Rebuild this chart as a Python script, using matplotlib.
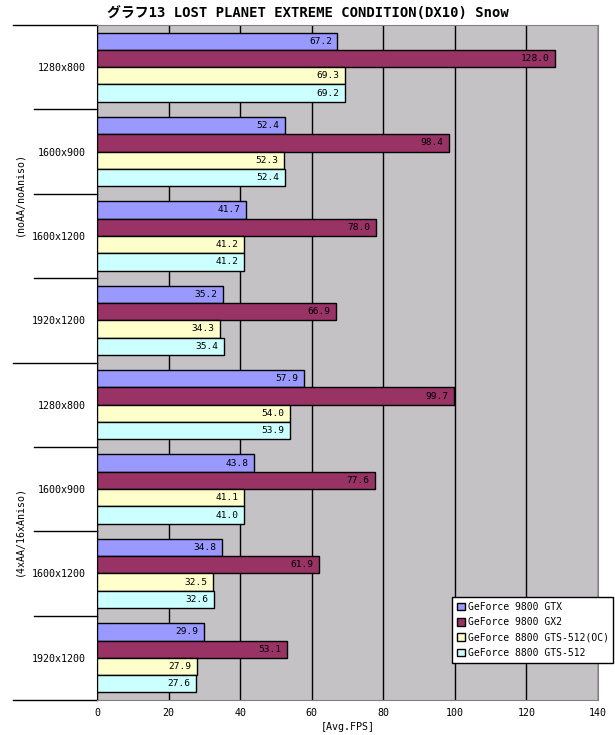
import numpy as np
import matplotlib.pyplot as plt
from matplotlib import transforms

# data, top to bottom
resolutions = ['1280x800', '1600x900', '1600x1200', '1920x1200'] * 2
settings = ['(noAA/noAniso)', '(4xAA/16xAniso)']
series = ['GeForce 9800 GTX', 'GeForce 9800 GX2',
          'GeForce 8800 GTS-512(OC)', 'GeForce 8800 GTS-512']
gtx_9800 = [67.2, 52.4, 41.7, 35.2, 57.9, 43.8, 34.8, 29.9]
gx2_9800 = [128.0, 98.4, 78.0, 66.9, 99.7, 77.6, 61.9, 53.1]
gts512_oc = [69.3, 52.3, 41.2, 34.3, 54.0, 41.1, 32.5, 27.9]
gts512 = [69.2, 52.4, 41.2, 35.4, 53.9, 41.0, 32.6, 27.6]
values = [gtx_9800, gx2_9800, gts512_oc, gts512]
colors = ['#9999ff', '#993366', '#ffffcc', '#ccffff']
x_ticks = [0, 20, 40, 60, 80, 100, 120, 140]

mono = ['DejaVu Sans Mono', 'Noto Sans CJK JP']

W, H = 615, 735
fig = plt.figure(figsize=(W / 100, H / 100), dpi=100)
ax = fig.add_axes([97 / W, 1 - 700 / H, (598 - 97) / W, (700 - 25) / H])
ax.set_facecolor('#c4c2c4')

n = len(resolutions)
pos = np.arange(n)
bw = 0.205
for j, (name, vals, c) in enumerate(zip(series, values, colors)):
    y = pos + (j - 1.5) * bw
    ax.barh(y, vals, height=bw, color=c, edgecolor='black', linewidth=1,
            label=name, zorder=3)
    for yy, v in zip(y, vals):
        ax.annotate(f'{v:.1f}', (v, yy), xytext=(-4, 0),
                    textcoords='offset points', ha='right', va='center',
                    fontsize=6.8, family=mono, zorder=4)

ax.set_xlim(0, 140)
ax.set_ylim(n - 0.5, -0.5)
ax.set_xticks(x_ticks)
ax.set_xticklabels([str(t) for t in x_ticks], family=mono, fontsize=7.2)
ax.tick_params(axis='x', length=0, pad=6)
ax.xaxis.grid(True, color='black', linewidth=1, zorder=1)
ax.set_axisbelow(True)
ax.set_xlabel('[Avg.FPS]', family=mono, fontsize=7.2, labelpad=3)

ax.set_yticks(pos)
ax.set_yticklabels(resolutions, family=mono, fontsize=7.2)
ax.tick_params(axis='y', length=0, pad=8)

for s in ['top', 'right', 'bottom']:
    ax.spines[s].set_color('#808080')
ax.spines['left'].set_color('black')

# category divider lines left of the axis
trans = transforms.blended_transform_factory(ax.transAxes, ax.transData)
for b in np.arange(n + 1) - 0.5:
    x0 = -0.1677 if b in (-0.5, 3.5, n - 0.5) else -0.1257
    ax.plot([x0, 0], [b, b], color='black', linewidth=1, transform=trans,
            clip_on=False)

for k, lab in enumerate(settings):
    ax.text(-0.155, 1.5 + 4 * k, lab, transform=trans, rotation=90,
            ha='center', va='center', family=mono, fontsize=7.2)

fig.text(0.5, 1 - 13 / H, 'グラフ13 LOST PLANET EXTREME CONDITION(DX10) Snow',
         ha='center', va='center', family=mono, fontsize=10, fontweight='bold')

leg = ax.legend(loc='upper left', bbox_to_anchor=(452 / W, 1 - 597 / H),
                bbox_transform=fig.transFigure, prop={'family': mono, 'size': 7},
                fancybox=False, edgecolor='black', framealpha=1,
                borderaxespad=0, handlelength=0.8, handleheight=0.8,
                handletextpad=0.3, labelspacing=0.55, borderpad=0.5)
leg.get_frame().set_linewidth(1)

plt.savefig('out.png', dpi=100)
plt.close()
